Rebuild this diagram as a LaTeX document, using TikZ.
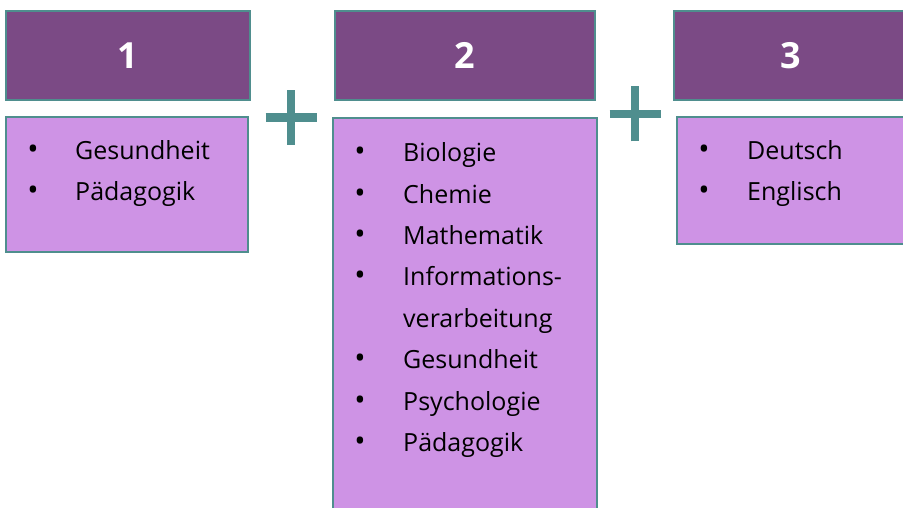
\documentclass[tikz,border=0pt]{standalone}
\usepackage{fontspec}
\setmainfont{Open Sans}
\usepackage{tikz}
\usetikzlibrary{positioning}

\definecolor{headcol}{HTML}{7B4A85}
\definecolor{bodycol}{HTML}{CE93E5}
\definecolor{tealcol}{HTML}{4F8E8E}

\tikzset{
    headbox/.style={draw=tealcol, line width=2.5pt, fill=headcol, minimum height=89pt,
        inner sep=0pt, text=white, font=\fontsize{36}{40}\selectfont\bfseries},
    bodybox/.style={draw=tealcol, line width=2.5pt, fill=bodycol},
    item/.style={anchor=base west, inner sep=0pt, font=\fontsize{25}{30}\selectfont},
    bullet/.style={anchor=base, inner sep=0pt, font=\fontsize{30}{30}\selectfont},
    plusbar/.style={draw=tealcol, line width=8.5pt}
}

\begin{document}
\begin{tikzpicture}[x=1pt,y=1pt]
    \useasboundingbox (0,0) rectangle (903,508);
    \clip (0,0) rectangle (903,508);

    % Header boxes
    \node[headbox, minimum width=244pt] (h1) at (128,452.5) {1};
    \node[headbox, minimum width=260pt] (h2) at (465,452.5) {2};
    \node[headbox, minimum width=234pt] (h3) at (791,452.5) {3};

    % Body boxes (box 2 and 3 run past the page)
    \draw[bodybox] (6,391) rectangle (248,256);
    \draw[bodybox] (333,390) rectangle (597,-12);
    \draw[bodybox] (677,391) rectangle (912,264);

    % Plus signs
    \coordinate (p1) at (291,390.5);
    \coordinate (p2) at (635,394);
    \draw[plusbar] ([xshift=-25.5pt]p1) -- ([xshift=25.5pt]p1);
    \draw[plusbar] ([yshift=-27.5pt]p1) -- ([yshift=27.5pt]p1);
    \draw[plusbar] ([xshift=-25.5pt]p2) -- ([xshift=25.5pt]p2);
    \draw[plusbar] ([yshift=-27.5pt]p2) -- ([yshift=27.5pt]p2);

    % Box 1
    \node[bullet] (b1a) at (33,348) {•};
    \node[bullet] (b1b) at (33,307.5) {•};
    \node[item] (t1a) at (75,348) {Gesundheit};
    \node[item] (t1b) at (75,307.5) {Pädagogik};

    % Box 2
    \foreach \i in {0,1,2,3,5,6,7}
        \node[bullet] (b2-\i) at (360,346.2-41.4*\i) {•};
    \node[item] (t2a) at (403,346.2) {Biologie};
    \node[item] (t2b) at (403,304.8) {Chemie};
    \node[item] (t2c) at (403,263.4) {Mathematik};
    \node[item] (t2d) at (403,222.0) {Informations-};
    \node[item] (t2e) at (403,180.6) {verarbeitung};
    \node[item] (t2f) at (403,139.2) {Gesundheit};
    \node[item] (t2g) at (403,97.8) {Psychologie};
    \node[item] (t2h) at (403,56.4) {Pädagogik};

    % Box 3
    \node[bullet] (b3a) at (704,348) {•};
    \node[bullet] (b3b) at (704,307.5) {•};
    \node[item] (t3a) at (747,348) {Deutsch};
    \node[item] (t3b) at (747,307.5) {Englisch};
\end{tikzpicture}
\end{document}
